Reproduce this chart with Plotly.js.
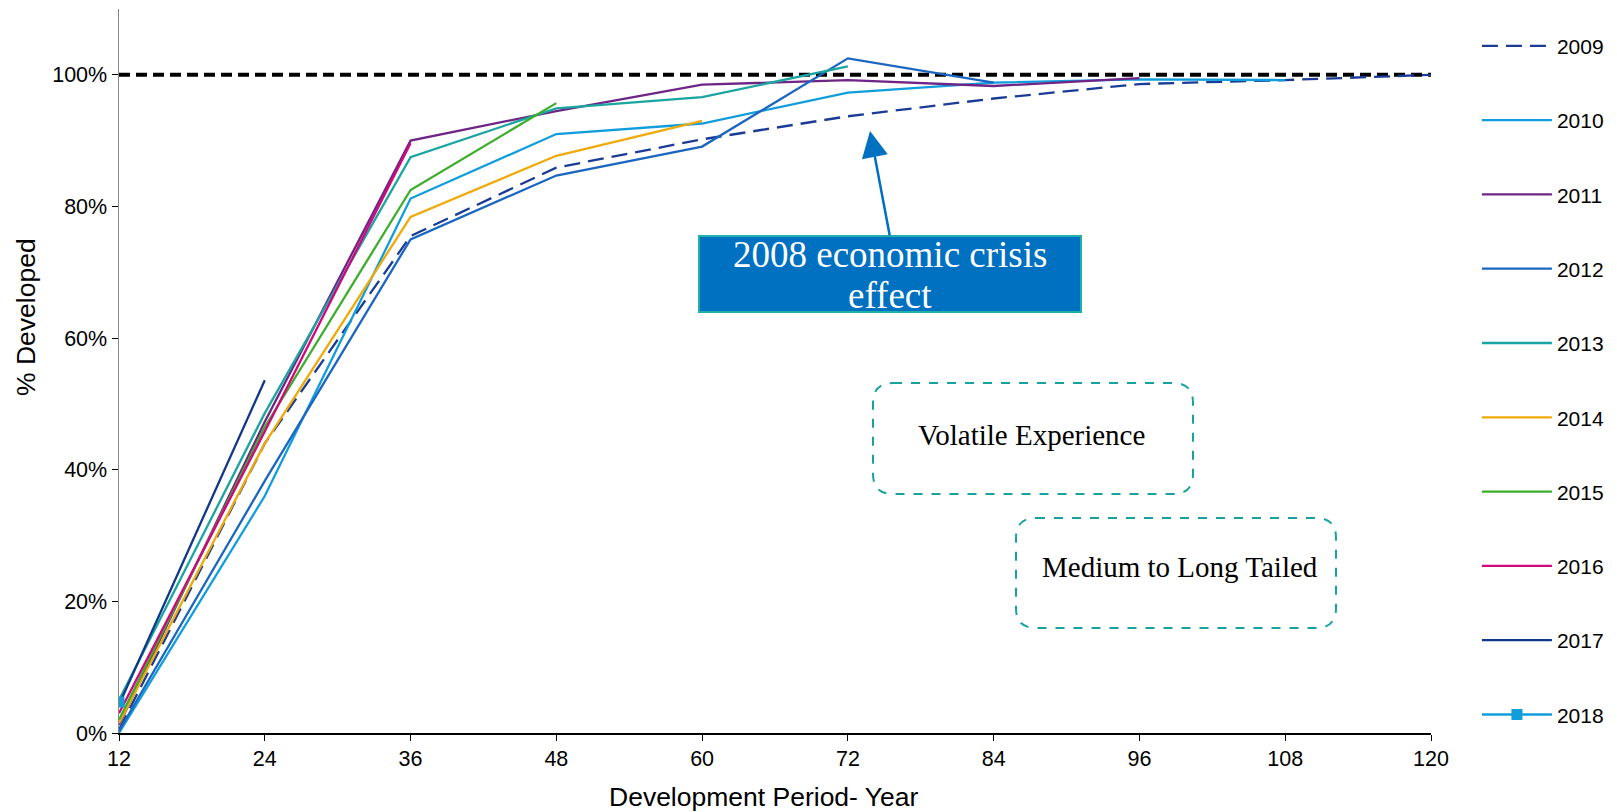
<!DOCTYPE html>
<html>
<head>
<meta charset="utf-8">
<script src="https://cdn.plot.ly/plotly-3.0.1.min.js"></script>
<style>html,body{margin:0;padding:0;background:#fff;}#chart{width:1617px;height:812px;}</style>
</head>
<body>
<div id="chart"></div>
<script>
// ---- data (percent developed by development period in months) ----
const months = [12, 24, 36, 48, 60, 72, 84, 96, 108, 120];
const years = ['2009', '2010', '2011', '2012', '2013', '2014', '2015', '2016', '2017', '2018'];
const dev2009 = [0.5, 44.0, 75.5, 85.9, 90.2, 93.7, 96.4, 98.6, 99.2, 100.0];
const dev2010 = [0.0, 36.0, 81.2, 91.0, 92.6, 97.3, 98.8, 99.3, 99.2];
const dev2011 = [1.2, 47.3, 90.0, 94.5, 98.5, 99.2, 98.3, 99.5];
const dev2012 = [0.3, 38.3, 75.0, 84.7, 89.1, 102.5, 98.8];
const dev2013 = [5.0, 48.6, 87.5, 94.9, 96.6, 101.3];
const dev2014 = [1.5, 44.0, 78.4, 87.7, 93.0];
const dev2015 = [2.0, 46.5, 82.5, 95.7];
const dev2016 = [3.0, 45.8, 89.6];
const dev2017 = [4.3, 53.6];
const dev2018 = [4.7];
const fullyDeveloped = [100, 100];
const fullyDevelopedX = [12, 120];
const yTicks = [0, 20, 40, 60, 80, 100];
const yTickText = yTicks.map(v => v + '%');

const series = [dev2009, dev2010, dev2011, dev2012, dev2013, dev2014, dev2015, dev2016, dev2017, dev2018];
const colors = ['#1A3C96', '#109DDB', '#6E2585', '#1B66C0', '#1AA5A0', '#EFAA0A', '#3DAE2B', '#D0087C', '#11378A', '#109DDB'];

const traces = [];
traces.push({
  x: fullyDevelopedX, y: fullyDeveloped, mode: 'lines', showlegend: false, hoverinfo: 'skip',
  line: {color: '#000000', width: 4, dash: '11px,6px'}
});
series.forEach((vals, i) => {
  const t = {
    x: months.slice(0, vals.length), y: vals, name: years[i], legendgroup: 'g' + i,
    mode: i === 9 ? 'lines+markers' : 'lines',
    line: {color: colors[i], width: 2.3}
  };
  if (i === 0) t.line.dash = '16px,8px';
  if (i === 9) t.marker = {symbol: 'square', size: 11, color: colors[i]};
  traces.push(t);
});

// ---- layout helpers (pixel -> paper) ----
const L = 119, R = 1431, T = 9, B = 733;
const px = x => (x - L) / (R - L);
const py = y => (B - y) / (B - T);
function roundRect(x0, y0, x1, y1, r) {
  const p = (x, y) => px(x).toFixed(5) + ',' + py(y).toFixed(5);
  return 'M' + p(x0 + r, y0) + ' L' + p(x1 - r, y0) + ' Q' + p(x1, y0) + ' ' + p(x1, y0 + r) +
    ' L' + p(x1, y1 - r) + ' Q' + p(x1, y1) + ' ' + p(x1 - r, y1) +
    ' L' + p(x0 + r, y1) + ' Q' + p(x0, y1) + ' ' + p(x0, y1 - r) +
    ' L' + p(x0, y0 + r) + ' Q' + p(x0, y0) + ' ' + p(x0 + r, y0) + ' Z';
}

const serif = 'Liberation Serif, Times New Roman, serif';
const layout = {
  width: 1617, height: 812,
  margin: {l: L, r: 1617 - R, t: T, b: 812 - B, autoexpand: false},
  paper_bgcolor: '#ffffff', plot_bgcolor: '#ffffff',
  font: {family: 'Liberation Sans, Arial, sans-serif', size: 21, color: '#000'},
  showlegend: true,
  xaxis: {
    range: [12, 120], tickvals: months, ticks: 'outside', ticklen: 6, tickcolor: '#000',
    showgrid: false, zeroline: false, showline: true, linecolor: '#000', linewidth: 1.5,
    tickfont: {size: 21.5}, automargin: false
  },
  yaxis: {
    range: [0, 110], tickvals: yTicks, ticktext: yTickText, ticks: 'outside', ticklen: 6, tickcolor: '#000',
    showgrid: false, zeroline: false, showline: true, linecolor: '#888888', linewidth: 1.5,
    tickfont: {size: 21.5}, automargin: false
  },
  legend: {
    x: 1.035, xanchor: 'left', y: 0.977, yanchor: 'top',
    font: {size: 21}, tracegroupgap: 44, itemwidth: 70, traceorder: 'grouped',
    bgcolor: 'rgba(0,0,0,0)'
  },
  shapes: [
    {type: 'rect', xref: 'paper', yref: 'paper', x0: px(699), x1: px(1081), y0: py(312), y1: py(236),
     fillcolor: '#0070C0', line: {color: '#1FB0AA', width: 2}, layer: 'above'},
    {type: 'path', xref: 'paper', yref: 'paper', path: roundRect(873, 383, 1193, 494, 20),
     line: {color: '#17A2A0', width: 2, dash: 'dash'}},
    {type: 'path', xref: 'paper', yref: 'paper', path: roundRect(1016, 518, 1336, 628, 20),
     line: {color: '#17A2A0', width: 2, dash: 'dash'}}
  ],
  annotations: [
    {xref: 'paper', yref: 'paper', x: px(764), y: py(797), text: 'Development Period- Year', showarrow: false,
     xanchor: 'center', yanchor: 'middle', font: {size: 26.5, color: '#000'}},
    {xref: 'paper', yref: 'paper', x: px(26), y: py(317), text: '% Developed', showarrow: false,
     textangle: -90, xanchor: 'center', yanchor: 'middle', font: {size: 26.5, color: '#000'}},
    {xref: 'paper', yref: 'paper', x: px(870), y: py(131), text: '', showarrow: true,
     ax: 20, ay: 106, arrowcolor: '#0070C0', arrowwidth: 2.5, arrowhead: 2, arrowsize: 2.1, standoff: 0},
    {xref: 'paper', yref: 'paper', x: px(890), y: py(255), text: '2008 economic crisis', showarrow: false,
     xanchor: 'center', yanchor: 'middle', font: {family: serif, size: 37, color: '#ffffff'}},
    {xref: 'paper', yref: 'paper', x: px(890), y: py(295), text: 'effect', showarrow: false,
     xanchor: 'center', yanchor: 'middle', font: {family: serif, size: 37, color: '#ffffff'}},
    {xref: 'paper', yref: 'paper', x: px(1031), y: py(435), text: 'Volatile Experience', showarrow: false,
     xanchor: 'center', yanchor: 'middle', font: {family: serif, size: 29, color: '#000'}},
    {xref: 'paper', yref: 'paper', x: px(1180), y: py(567), text: 'Medium to Long Tailed', showarrow: false,
     xanchor: 'center', yanchor: 'middle', font: {family: serif, size: 29, color: '#000'}}
  ]
};

Plotly.newPlot('chart', traces, layout, {displayModeBar: false, staticPlot: true});
</script>
</body>
</html>
